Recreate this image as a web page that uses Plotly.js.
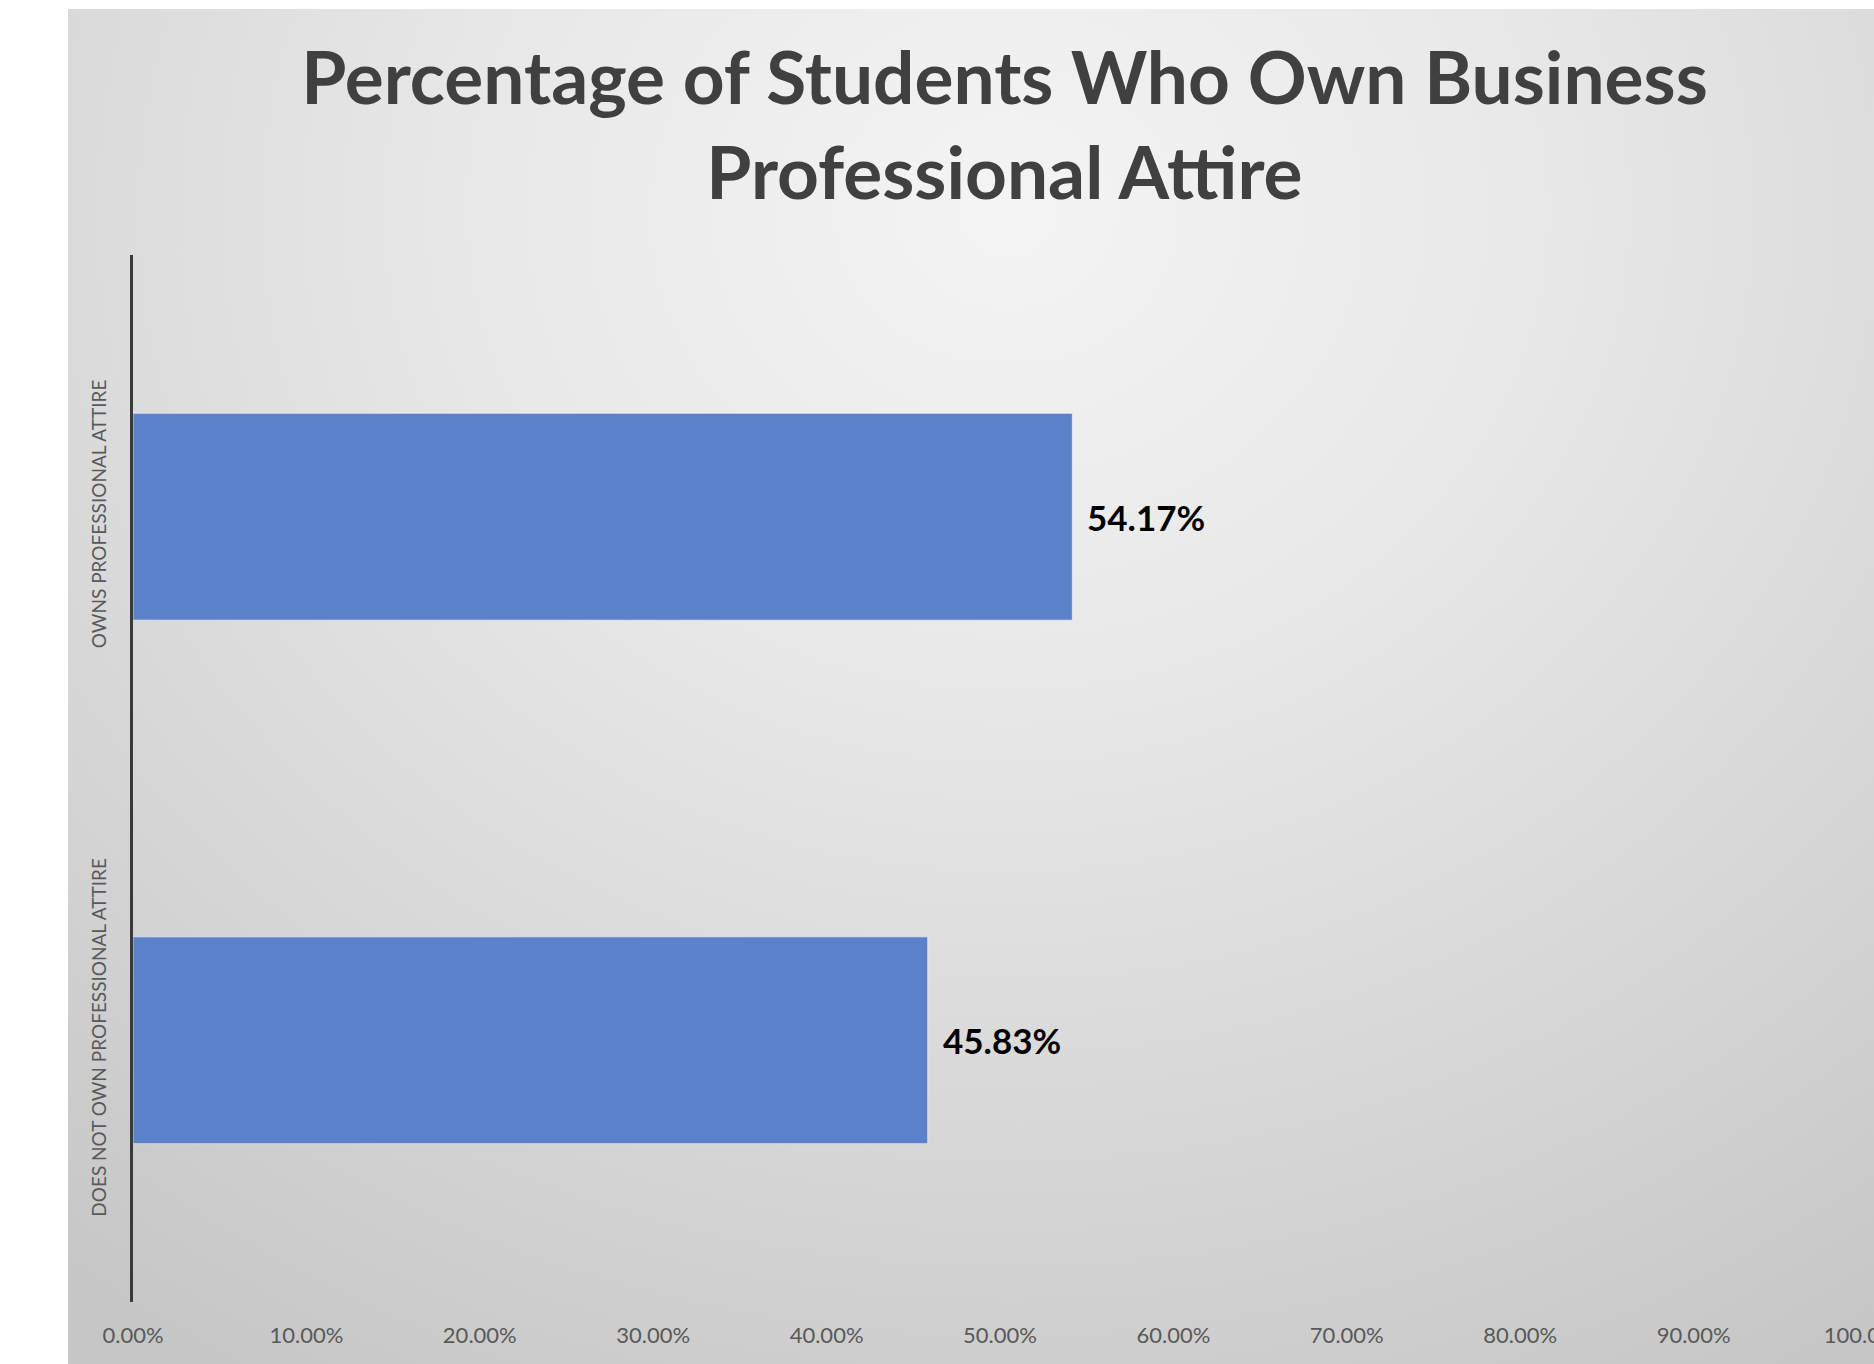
<!DOCTYPE html>
<html>
<head>
<meta charset="utf-8">
<script src="https://cdn.plot.ly/plotly-3.0.1.min.js"></script>
<style>
  html, body { margin: 0; padding: 0; background: #ffffff; width: 1874px; height: 1364px; overflow: hidden; }
  #bg { position: absolute; left: 68px; top: 9px; width: 1806px; height: 1355px;
        background: radial-gradient(ellipse 85% 100% at 52% 15%, #f4f4f4 0%, #e8e8e8 35%, #d6d6d6 70%, #c6c6c6 100%); }
  #chart { position: absolute; left: 0; top: 0; width: 1874px; height: 1364px; }
</style>
</head>
<body>
<div id="bg"></div>
<div id="chart"></div>
<script>
const categories = ["OWNS PROFESSIONAL ATTIRE", "DOES NOT OWN PROFESSIONAL ATTIRE"];
const values = [0.5417, 0.4583];
const tickValues = [0, 0.1, 0.2, 0.3, 0.4, 0.5, 0.6, 0.7, 0.8, 0.9, 1.0];
const tickLabels = ["0.00%", "10.00%", "20.00%", "30.00%", "40.00%", "50.00%", "60.00%", "70.00%", "80.00%", "90.00%", "100.00%"];
const chartTitle = "Percentage of Students Who Own Business<br>Professional Attire";

const trace = {
  type: "bar",
  orientation: "h",
  x: values,
  y: categories,
  marker: { color: "#5b82c9", line: { color: "rgba(255,255,255,0.55)", width: 1 } },
  hoverinfo: "none"
};

const annotations = values.map((v, i) => ({
  x: v, y: categories[i], xref: "x", yref: "y",
  text: (v * 100).toFixed(2) + "%",
  showarrow: false, xanchor: "left", yanchor: "middle", xshift: 13,
  font: { family: "Lato, 'Open Sans', sans-serif", size: 35, color: "#000000", weight: 700 }
}));

const layout = {
  width: 1874, height: 1364,
  paper_bgcolor: "rgba(0,0,0,0)", plot_bgcolor: "rgba(0,0,0,0)",
  margin: { l: 133, r: 7, t: 255, b: 62 },
  showlegend: false,
  bargap: 0.605,
  title: {
    text: chartTitle,
    xref: "container", yref: "container",
    x: 0.536, xanchor: "center",
    y: 0.924, yanchor: "top",
    font: { family: "Lato, 'Open Sans', sans-serif", size: 73, color: "#404040", weight: 700 }
  },
  xaxis: {
    range: [0, 1], tickvals: tickValues, ticktext: tickLabels,
    showgrid: false, zeroline: false, showline: false,
    ticks: "outside", ticklen: 14, tickcolor: "rgba(0,0,0,0)",
    ticklabeloverflow: "allow",
    tickfont: { family: "Lato, 'Open Sans', sans-serif", size: 22, color: "#595959" },
    fixedrange: true
  },
  yaxis: {
    autorange: "reversed",
    showgrid: false, zeroline: false,
    showline: true, linecolor: "#3a3a3a", linewidth: 3,
    ticks: "outside", ticklen: 16, tickcolor: "rgba(0,0,0,0)",
    tickangle: -90,
    tickfont: { family: "Lato, 'Open Sans', sans-serif", size: 19, color: "#595959" },
    fixedrange: true
  },
  annotations: annotations
};

Plotly.newPlot("chart", [trace], layout, { displayModeBar: false, staticPlot: true });
</script>
</body>
</html>
